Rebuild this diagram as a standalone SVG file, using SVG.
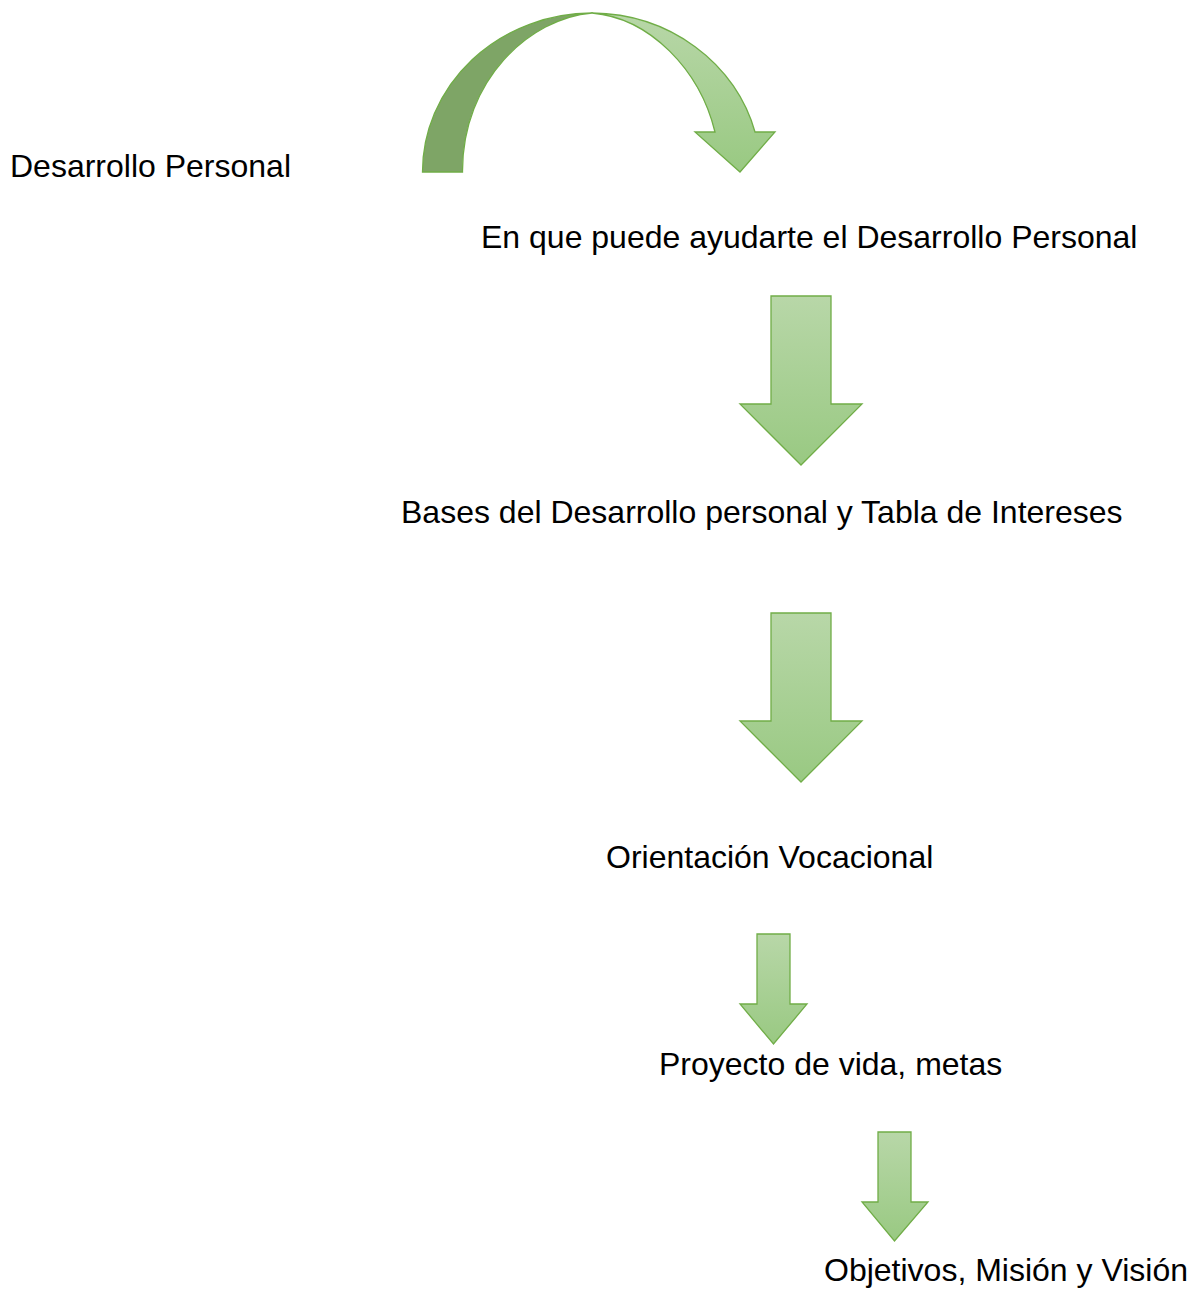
<svg xmlns="http://www.w3.org/2000/svg" width="1195" height="1289" viewBox="0 0 1195 1289">
<defs>
<linearGradient id="g" x1="0" y1="0" x2="0" y2="1">
<stop offset="0" stop-color="#b8d7a8"/>
<stop offset="1" stop-color="#99c982"/>
</linearGradient>
<style>
.arr{fill:url(#g);stroke:#70ad47;stroke-width:1.3;stroke-linejoin:miter}
.dark{fill:#7ea566;stroke:#70ad47;stroke-width:1.3}
.t{font-family:"Liberation Sans",Arial,sans-serif;font-size:32px;fill:#000}
</style>
</defs>
<rect width="1195" height="1289" fill="#fff"/>
<g id="connectors">
<g id="curved-arrow">
<path class="dark" d="M422.5,172 A170,159 0 0 1 592,13 C530,18 462,80 462.5,172 Z"/>
<path class="arr" d="M592,13 A170,159 0 0 1 755,132 L775,132 L740,172 L695,132 L715,132 C700,70 650,18 592,13 Z"/>
</g>
<path id="arrow1" class="arr" d="M771,296 H831 V404 H862 L801,465 L740,404 H771 Z"/>
<path id="arrow2" class="arr" d="M771,613 H831 V721 H862 L801,782 L740,721 H771 Z"/>
<path id="arrow3" class="arr" d="M757,934 H790 V1004 H807 L773.5,1044 L740,1004 H757 Z"/>
<path id="arrow4" class="arr" d="M878,1132 H911 V1202 H928 L894.5,1241 L862,1202 H878 Z"/>
</g>
<g id="n1"><text class="t" x="10" y="177">Desarrollo Personal</text></g>
<g id="n2"><text class="t" x="481" y="248">En que puede ayudarte el Desarrollo Personal</text></g>
<g id="n3"><text class="t" x="401" y="523">Bases del Desarrollo personal y Tabla de Intereses</text></g>
<g id="n4"><text class="t" x="606" y="868">Orientación Vocacional</text></g>
<g id="n5"><text class="t" x="659" y="1075">Proyecto de vida, metas</text></g>
<g id="n6"><text class="t" x="824" y="1281">Objetivos, Misión y Visión</text></g>
</svg>
